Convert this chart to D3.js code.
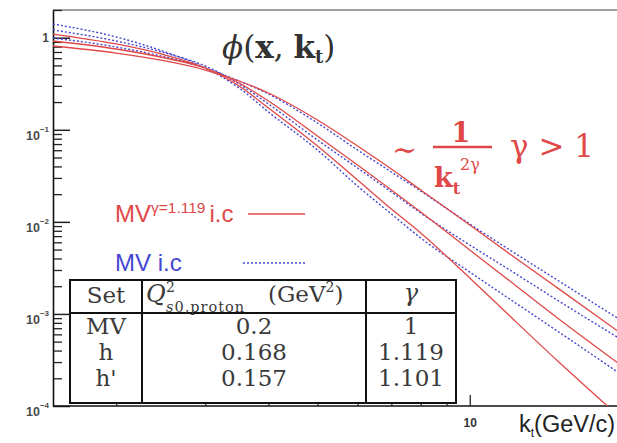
<!DOCTYPE html>
<html>
<head>
<meta charset="utf-8">
<script src="https://cdn.jsdelivr.net/npm/d3@7"></script>
<style>
  body { margin: 0; background: #fff; }
  svg { display: block; }
</style>
</head>
<body>
<svg id="chart" width="617" height="443"></svg>
<script>
// transverse momentum grid (GeV/c)
const kt = [1.5, 2, 2.5, 3, 3.5, 4, 5, 6, 7, 8, 10, 12, 15, 20];

// MV^gamma initial condition (solid red), three evolution stages
const mvGamma1 = [0.813, 0.682, 0.559, 0.446, 0.3388, 0.2509, 0.1277, 0.0667, 0.0375, 0.0222, 0.00925, 0.00448, 0.00187, 0.000605];
const mvGamma2 = [0.921, 0.754, 0.602, 0.469, 0.3222, 0.2055, 0.0856, 0.0414, 0.0222, 0.0128, 0.00495, 0.00228, 0.000881, 0.000272];
const mvGamma3 = [1.097, 0.855, 0.649, 0.469, 0.2989, 0.1724, 0.0667, 0.0285, 0.01379, 0.00757, 0.00246, 0.000949, 0.0003, 0.0000722];

// MV initial condition (dotted blue), same stages
const mv1 = [0.993, 0.793, 0.617, 0.469, 0.3388, 0.2447, 0.1185, 0.0603, 0.0348, 0.0216, 0.00948, 0.00495, 0.00228, 0.000838];
const mv2 = [1.213, 0.921, 0.682, 0.493, 0.3142, 0.1906, 0.0774, 0.0385, 0.0211, 0.01248, 0.00561, 0.003, 0.00138, 0.000521];
const mv3 = [1.409, 1.018, 0.7, 0.469, 0.2843, 0.156, 0.0603, 0.0245, 0.01217, 0.00668, 0.00285, 0.00145, 0.000636, 0.000217];

// axis ticks
const yDecades = [1, 0.1, 0.01, 0.001, 0.0001];
const yDecadeExp = [0, -1, -2, -3, -4];
const xMajor = [10];
const xMinor = [2, 3, 4, 5, 6, 7, 8, 9];

// parameter table
const tableSets = ["MV", "h", "h'"];
const tableQs = ["0.2", "0.168", "0.157"];
const tableGamma = ["1", "1.119", "1.101"];

const RED = "#e04848";
const BLUE = "#4448d0";
const sans = "Liberation Sans, Arial, sans-serif";
const serif = "DejaVu Serif, serif";

const svg = d3.select("#chart");

const x = d3.scaleLog().domain([1.5, 20]).range([53, 622]);
const y = d3.scaleLog().domain([1e-4, 2]).range([406, 10]);

// plotting area clip
svg.append("defs").append("clipPath").attr("id", "plotClip")
  .append("rect").attr("x", 53).attr("y", 10).attr("width", 570).attr("height", 396);

// top frame line
svg.append("line").attr("x1", 53).attr("x2", 617).attr("y1", 10).attr("y2", 10)
  .attr("stroke", "#a0a0a0").attr("stroke-width", 2);

// y axis: minor ticks
const yMinor = [];
yDecades.forEach(d => { for (let m = 2; m <= 9; m++) { const v = m * d; if (v <= 2.0001) yMinor.push(v); } });
svg.append("g").attr("transform", "translate(53,0)")
  .call(d3.axisLeft(y).tickValues(yMinor).tickSizeInner(-9).tickSizeOuter(0).tickFormat(""))
  .call(g => g.selectAll("line").attr("stroke", "#222").attr("stroke-width", 1.3));
// y axis: major ticks and spine
svg.append("g").attr("transform", "translate(53,0)")
  .call(d3.axisLeft(y).tickValues(yDecades).tickSizeInner(-17).tickSizeOuter(0).tickFormat(""))
  .call(g => g.selectAll("line").attr("stroke", "#222").attr("stroke-width", 1.5))
  .call(g => g.select(".domain").attr("stroke", "#111").attr("stroke-width", 1.6));

// y tick labels
yDecades.forEach((d, i) => {
  const e = yDecadeExp[i];
  const t = svg.append("text").attr("x", 49).attr("text-anchor", "end")
    .attr("font-family", sans).attr("font-weight", "bold").attr("fill", "#4a4a4a");
  if (e === 0) {
    t.attr("y", y(d) + 4).attr("font-size", 12).text("1");
  } else {
    t.attr("y", y(d) + 10).attr("font-size", 12.5);
    t.append("tspan").text("10");
    t.append("tspan").attr("font-size", 8).attr("dy", -8).text("\u2212" + Math.abs(e));
  }
});

// x axis
svg.append("g").attr("transform", "translate(0,406)")
  .call(d3.axisBottom(x).tickValues(xMinor).tickSizeInner(-6).tickSizeOuter(0).tickFormat(""))
  .call(g => g.selectAll("line").attr("stroke", "#222").attr("stroke-width", 1.2))
  .call(g => g.select(".domain").attr("stroke", "#111").attr("stroke-width", 1.6).attr("d", "M53,0H617"));
svg.append("g").attr("transform", "translate(0,406)")
  .call(d3.axisBottom(x).tickValues(xMajor).tickSizeInner(-11).tickSizeOuter(0)
    .tickFormat(d3.format("d")))
  .call(g => g.select(".domain").remove())
  .call(g => g.selectAll("line").attr("stroke", "#222").attr("stroke-width", 1.3))
  .call(g => g.selectAll("text").attr("y", 21).attr("dy", null)
    .attr("font-family", sans).attr("font-weight", "bold")
    .attr("font-size", 12).attr("fill", "#333"));

// x axis title
const xt = svg.append("text").attr("x", 519).attr("y", 432)
  .attr("font-family", sans).attr("font-size", 23.5).attr("fill", "#222");
xt.append("tspan").text("k");
xt.append("tspan").attr("font-size", 12).attr("dy", 5).text("t");
xt.append("tspan").attr("dy", -5).text("(GeV/c)");

// curves
const line = d3.line().x((d, i) => x(kt[i])).y(d => y(d)).curve(d3.curveMonotoneX);
const curves = svg.append("g").attr("clip-path", "url(#plotClip)");
[mv1, mv2, mv3].forEach(s => {
  curves.append("path").attr("d", line(s)).attr("fill", "none")
    .attr("stroke", BLUE).attr("stroke-width", 1.4).attr("stroke-dasharray", "2,2");
});
[mvGamma1, mvGamma2, mvGamma3].forEach(s => {
  curves.append("path").attr("d", line(s)).attr("fill", "none")
    .attr("stroke", RED).attr("stroke-width", 1.3);
});

// phi(x, k_t) title
const ph = svg.append("text").attr("x", 222).attr("y", 58)
  .attr("font-family", serif).attr("font-size", 31).attr("fill", "#333");
ph.append("tspan").attr("font-style", "italic").text("\u03d5");
ph.append("tspan").text("(");
ph.append("tspan").attr("font-weight", "bold").text("x");
ph.append("tspan").text(", ");
ph.append("tspan").attr("font-weight", "bold").text("k");
ph.append("tspan").attr("font-weight", "bold").attr("font-size", 18).attr("dy", 5).text("t");
ph.append("tspan").attr("dy", -5).text(")");

// asymptotic behaviour annotation
svg.append("text").attr("x", 392).attr("y", 160).attr("font-family", serif).attr("font-size", 30)
  .attr("fill", RED).text("\u223c");
svg.append("text").attr("x", 461).attr("y", 142).attr("text-anchor", "middle").attr("font-family", serif)
  .attr("font-weight", "bold").attr("font-size", 27).attr("fill", RED).text("1");
svg.append("line").attr("x1", 433).attr("x2", 492).attr("y1", 147).attr("y2", 147)
  .attr("stroke", RED).attr("stroke-width", 2.4);
const den = svg.append("text").attr("x", 434).attr("y", 187).attr("font-family", serif)
  .attr("font-weight", "bold").attr("font-size", 27).attr("fill", RED);
den.append("tspan").text("k");
den.append("tspan").attr("font-size", 16).attr("dy", 7).text("t");
svg.append("text").attr("x", 460).attr("y", 170).attr("font-family", serif)
  .attr("font-size", 16).attr("fill", RED).text("2\u03b3");
svg.append("text").attr("x", 510).attr("y", 157).attr("font-family", serif)
  .attr("font-size", 31).attr("fill", RED).text("\u03b3 > 1");

// legend
const lg1 = svg.append("text").attr("x", 115).attr("y", 222).attr("font-family", sans)
  .attr("font-size", 24).attr("fill", RED);
lg1.append("tspan").text("MV");
lg1.append("tspan").attr("font-size", 15.5).attr("dy", -9).text("\u03b3=1.119");
lg1.append("tspan").attr("dy", 9).attr("dx", 4).text("i.c");
svg.append("line").attr("x1", 248).attr("x2", 305).attr("y1", 214).attr("y2", 214)
  .attr("stroke", RED).attr("stroke-width", 1.4);

svg.append("text").attr("x", 115).attr("y", 271).attr("font-family", sans)
  .attr("font-size", 24).attr("fill", BLUE).text("MV i.c");
svg.append("line").attr("x1", 243).attr("x2", 305).attr("y1", 263).attr("y2", 263)
  .attr("stroke", BLUE).attr("stroke-width", 1.4).attr("stroke-dasharray", "2,2");

// parameter table
const tb = svg.append("g").attr("font-family", serif).attr("fill", "#3a3a3a");
tb.append("rect").attr("x", 70).attr("y", 280).attr("width", 386).attr("height", 123)
  .attr("fill", "#fff").attr("stroke", "#111").attr("stroke-width", 2);
tb.append("line").attr("x1", 70).attr("x2", 456).attr("y1", 313).attr("y2", 313)
  .attr("stroke", "#111").attr("stroke-width", 2);
[142, 366].forEach(cx => tb.append("line").attr("x1", cx).attr("x2", cx).attr("y1", 280).attr("y2", 403)
  .attr("stroke", "#111").attr("stroke-width", 2));

const colX = [106, 254, 411];
tb.append("text").attr("x", colX[0]).attr("y", 303).attr("text-anchor", "middle")
  .attr("font-size", 23).text("Set");
tb.append("text").attr("x", 146).attr("y", 302).attr("font-size", 24).attr("font-style", "italic").text("Q");
tb.append("text").attr("x", 166).attr("y", 292).attr("font-size", 14).text("2");
const sub = tb.append("text").attr("x", 166).attr("y", 312).attr("font-size", 14.5).attr("letter-spacing", 1);
sub.append("tspan").attr("font-style", "italic").text("s");
sub.append("tspan").text("0,proton");
const gev = tb.append("text").attr("x", 268).attr("y", 302).attr("font-size", 23);
gev.append("tspan").text("(GeV");
gev.append("tspan").attr("font-size", 14).attr("dy", -10).text("2");
gev.append("tspan").attr("dy", 10).text(")");
tb.append("text").attr("x", colX[2]).attr("y", 301).attr("text-anchor", "middle")
  .attr("font-size", 24).attr("font-style", "italic").text("\u03b3");

const rowY = [334, 360, 386];
tableSets.forEach((s, i) => {
  [s, tableQs[i], tableGamma[i]].forEach((v, j) => {
    tb.append("text").attr("x", colX[j]).attr("y", rowY[i]).attr("text-anchor", "middle")
      .attr("font-size", 23).text(v);
  });
});
</script>
</body>
</html>
